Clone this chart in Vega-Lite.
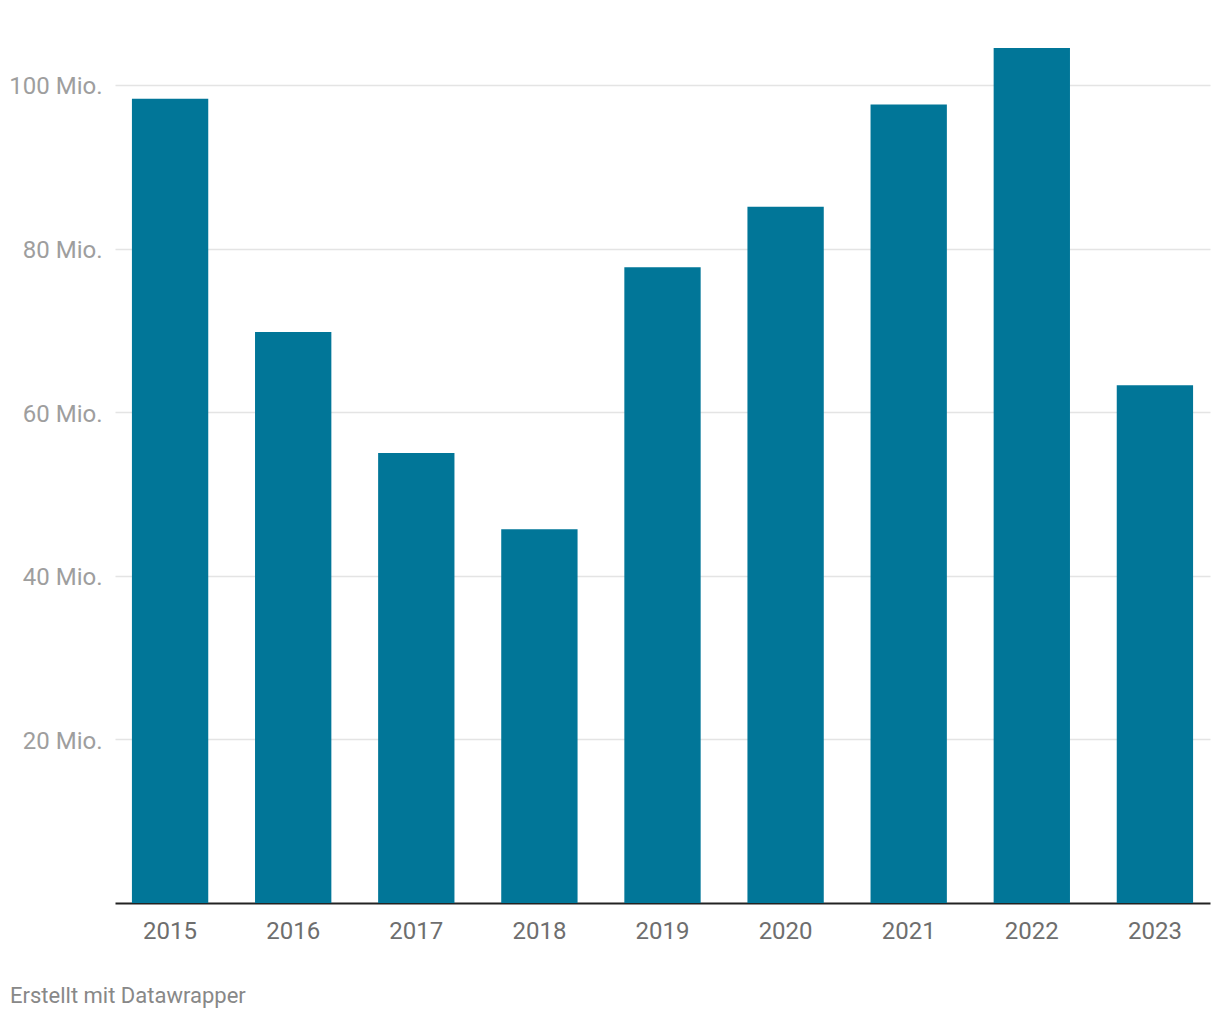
{
  "$schema": "https://vega.github.io/schema/vega-lite/v6.json",
  "autosize": "none",
  "width": 1095,
  "height": 859,
  "padding": {"left": 115, "top": 44, "right": 10, "bottom": 117},
  "background": "white",
  "data": {
    "values": [
      {"jahr": "2015", "wert": 98.3},
      {"jahr": "2016", "wert": 69.8},
      {"jahr": "2017", "wert": 55.0},
      {"jahr": "2018", "wert": 45.7},
      {"jahr": "2019", "wert": 77.7},
      {"jahr": "2020", "wert": 85.1},
      {"jahr": "2021", "wert": 97.6},
      {"jahr": "2022", "wert": 104.5},
      {"jahr": "2023", "wert": 63.3}
    ]
  },
  "title": {
    "text": "Erstellt mit Datawrapper",
    "orient": "bottom",
    "anchor": "start",
    "frame": "group",
    "dx": -105,
    "offset": 43,
    "font": "Roboto",
    "fontSize": 22,
    "fontWeight": "normal",
    "color": "#888888"
  },
  "config": {
    "view": {"stroke": null},
    "font": "Roboto"
  },
  "mark": {"type": "bar", "color": "#017698"},
  "encoding": {
    "x": {
      "field": "jahr",
      "type": "ordinal",
      "scale": {"paddingInner": 0.38, "paddingOuter": 0.1375},
      "axis": {
        "title": null,
        "labelAngle": 0,
        "labelFont": "Roboto",
        "labelFontSize": 24,
        "labelColor": "#6e6e6e",
        "labelPadding": 16,
        "ticks": false,
        "domainColor": "#222222",
        "domainWidth": 2
      }
    },
    "y": {
      "field": "wert",
      "type": "quantitative",
      "scale": {"domain": [0, 105], "nice": false},
      "axis": {
        "title": null,
        "values": [20, 40, 60, 80, 100],
        "labelExpr": "datum.value + ' Mio.'",
        "labelFont": "Roboto",
        "labelFontSize": 24,
        "labelColor": "#9e9e9e",
        "labelPadding": 13,
        "labelOffset": 2,
        "ticks": false,
        "domain": false,
        "gridColor": "#e4e4e4",
        "gridWidth": 1.5
      }
    }
  }
}
